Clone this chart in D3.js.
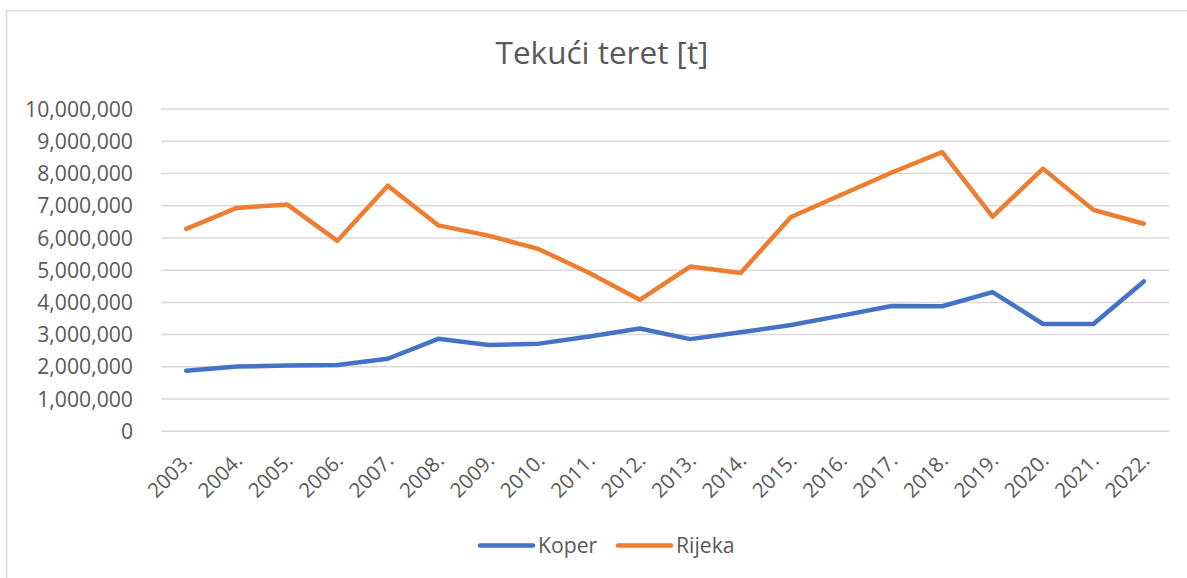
<!DOCTYPE html>
<html>
<head>
<meta charset="utf-8">
<script src="https://cdn.jsdelivr.net/npm/d3@7"></script>
<style>
  body { margin: 0; background: #fff; }
  text { font-family: "Open Sans", sans-serif; fill: #595959; }
</style>
</head>
<body>
<div id="chart_container"></div>
<script>
const years = ["2003.", "2004.", "2005.", "2006.", "2007.", "2008.", "2009.", "2010.", "2011.", "2012.",
               "2013.", "2014.", "2015.", "2016.", "2017.", "2018.", "2019.", "2020.", "2021.", "2022."];
const koper = [1880000, 2010000, 2040000, 2060000, 2250000, 2870000, 2680000, 2720000, 2940000, 3190000,
               2860000, 3070000, 3300000, 3590000, 3890000, 3880000, 4320000, 3330000, 3330000, 4650000];
const rijeka = [6280000, 6930000, 7040000, 5910000, 7620000, 6390000, 6070000, 5650000, 4910000, 4080000,
                5110000, 4910000, 6650000, 7340000, 8030000, 8660000, 6660000, 8150000, 6870000, 6440000];
const yTicks = [0, 1000000, 2000000, 3000000, 4000000, 5000000, 6000000, 7000000, 8000000, 9000000, 10000000];
const seriesNames = ["Koper", "Rijeka"];
const seriesColors = ["#4472C4", "#ED7D31"];

function DrawChart() {
    const width = 1187, height = 578;
    const plot = {left: 161, right: 1169, top: 109, bottom: 431.3};

    d3.select("#chart_container").selectAll("*").remove();

    const svg = d3.select("#chart_container")
        .append("svg")
        .attr("width", width)
        .attr("height", height);

    // chart border (cut off at right and bottom like the picture)
    svg.append("rect")
        .attr("x", 6.5).attr("y", 10.5)
        .attr("width", 1200).attr("height", 600)
        .attr("fill", "none")
        .attr("stroke", "#d9d9d9")
        .attr("stroke-width", 1.5);

    // title
    svg.append("text")
        .attr("x", 602).attr("y", 64)
        .attr("text-anchor", "middle")
        .style("font-size", "31.5px")
        .text("Tekući teret [t]");

    var x = d3.scaleBand()
        .domain(years)
        .range([plot.left, plot.right]);

    var y = d3.scaleLinear()
        .domain([0, 10000000])
        .range([plot.bottom, plot.top]);

    // gridlines
    svg.append("g")
        .selectAll("line")
        .data(yTicks)
        .enter()
        .append("line")
        .attr("x1", plot.left).attr("x2", plot.right)
        .attr("y1", d => y(d)).attr("y2", d => y(d))
        .attr("stroke", "#d9d9d9")
        .attr("stroke-width", 1.5);

    // y labels
    svg.append("g")
        .selectAll("text")
        .data(yTicks)
        .enter()
        .append("text")
        .attr("x", 133)
        .attr("y", d => y(d))
        .attr("dy", "0.36em")
        .attr("text-anchor", "end")
        .style("font-size", "21.2px")
        .text(d => d3.format(",")(d));

    // x labels, rotated
    svg.append("g")
        .selectAll("text")
        .data(years)
        .enter()
        .append("text")
        .attr("transform", d => "translate(" + (x(d) + x.bandwidth() / 2 + 7) + ",462) rotate(-45)")
        .attr("text-anchor", "end")
        .style("font-size", "20.5px")
        .text(d => d);

    const line = d3.line()
        .x((d, i) => x(years[i]) + x.bandwidth() / 2)
        .y(d => y(d));

    [koper, rijeka].forEach((values, i) => {
        svg.append("path")
            .datum(values)
            .attr("d", line)
            .attr("fill", "none")
            .attr("stroke", seriesColors[i])
            .attr("stroke-width", 4.5)
            .attr("stroke-linejoin", "round")
            .attr("stroke-linecap", "round");
    });

    // legend
    const legendX = [480, 618];
    seriesNames.forEach((name, i) => {
        svg.append("line")
            .attr("x1", legendX[i]).attr("x2", legendX[i] + 53)
            .attr("y1", 545.5).attr("y2", 545.5)
            .attr("stroke", seriesColors[i])
            .attr("stroke-width", 4.5)
            .attr("stroke-linecap", "round");
        svg.append("text")
            .attr("x", legendX[i] + 58)
            .attr("y", 545.5)
            .attr("dy", "0.36em")
            .style("font-size", "21.2px")
            .text(name);
    });
}

DrawChart();
</script>
</body>
</html>
